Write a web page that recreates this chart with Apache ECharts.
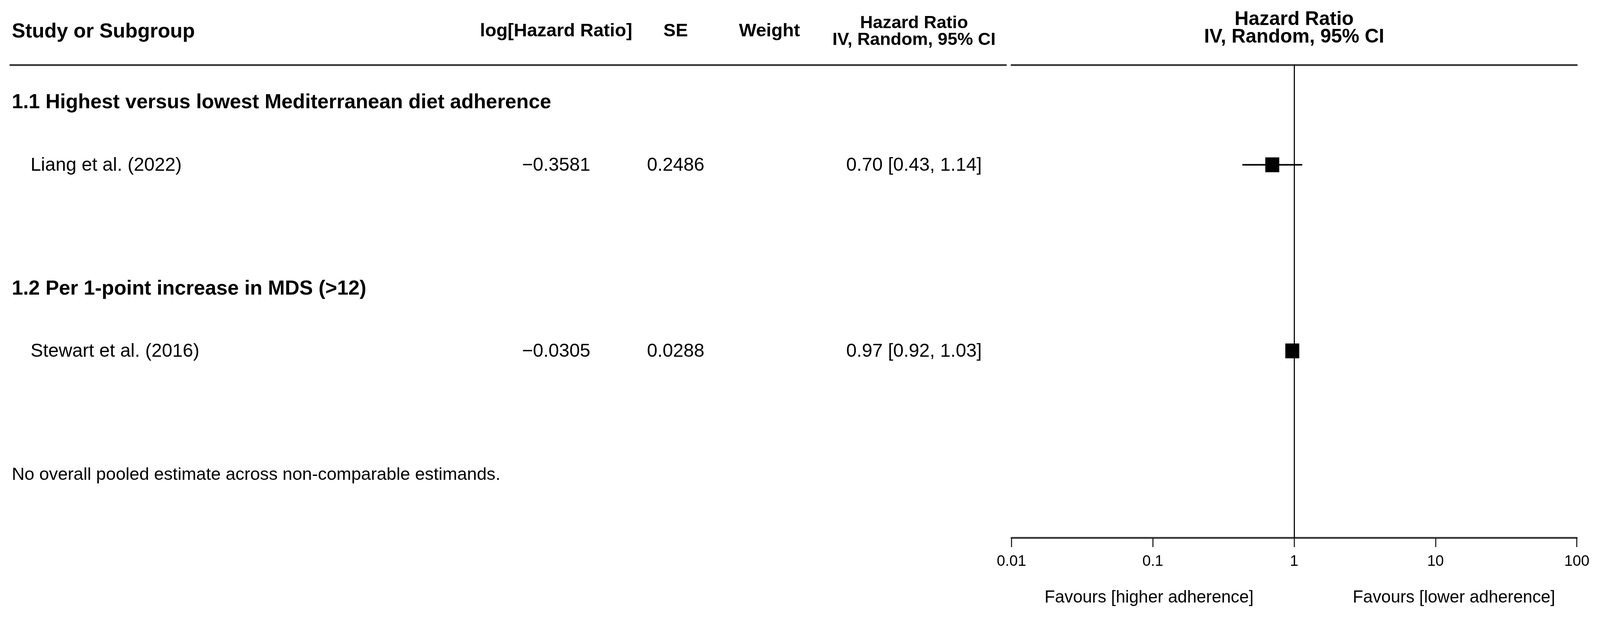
<!DOCTYPE html>
<html><head><meta charset="utf-8">
<script src="https://cdn.jsdelivr.net/npm/echarts@6/dist/echarts.min.js"></script>
<style>html,body{margin:0;padding:0;background:#fff;overflow:hidden}#c{width:100vw;height:100vh}</style>
</head><body><div id="c"></div>
<script>
// ---- data ----
const subgroups = ['1.1 Highest versus lowest Mediterranean diet adherence', '1.2 Per 1-point increase in MDS (>12)'];
const studies = ['Liang et al. (2022)', 'Stewart et al. (2016)'];
const studySubgroup = [0, 1];
const logHR = [-0.3581, -0.0305];
const seVals = [0.2486, 0.0288];
const weights = ['', ''];
const hrVals = [0.70, 0.97];
const ciLow = [0.43, 0.92];
const ciHigh = [1.14, 1.03];
const tickLabels = ['0.01', '0.1', '1', '10', '100'];
const colHeaders = ['Study or Subgroup', 'log[Hazard Ratio]', 'SE', 'Weight', 'Hazard Ratio', 'IV, Random, 95% CI'];
const plotHeader = ['Hazard Ratio', 'IV, Random, 95% CI'];
const favours = ['Favours [higher adherence]', 'Favours [lower adherence]'];
const footnote = 'No overall pooled estimate across non-comparable estimands.';

// ---- layout (designed for 4350x1579, scaled to the actual viewport) ----
const FONT = '"Liberation Sans", Arial, Helvetica, sans-serif';
const el = document.getElementById('c');
const VW = el.clientWidth || window.innerWidth, VH = el.clientHeight || window.innerHeight;
const sx = VW / 4350, sy = VH / 1579, sf = Math.min(sx, sy);
const X = (v) => v * sx, Y = (v) => v * sy, F = (v) => v * sf;
const TOP = 166, AXIS_Y = 1376;
const PLOT_L = 2750, PLOT_R = 4287;
const TAB_L = 28, TAB_R = 2735;
const ROW_MIN = -0.611, ROW_MAX = 7.01;
const COL = { name: 83, sub: 32, loghr: 1512, se: 1837, weight: 2092, hr: 2485 };

function subRow(k) { return 3 * k; }
function studyRow(i) { return 3 * studySubgroup[i] + 1; }
const noteRow = 3 * subgroups.length;

function fmtSigned(v, d) { return (v < 0 ? '\u2212' : '') + Math.abs(v).toFixed(d); }

const chart = echarts.init(el, null, { renderer: 'canvas' });

const forestData = studies.map((s, i) => [hrVals[i], ciLow[i], ciHigh[i], studyRow(i)]);

const hiddenY = (gi) => ({
  type: 'value', gridIndex: gi, inverse: true, min: ROW_MIN, max: ROW_MAX,
  show: false, splitLine: { show: false }
});
const topLine = (gi) => ({
  type: 'value', gridIndex: gi, min: 0, max: 1, position: 'top',
  axisLine: { show: true, onZero: false, lineStyle: { color: '#333', width: Y(4.5) } },
  axisTick: { show: false }, axisLabel: { show: false }, splitLine: { show: false }
});

chart.setOption({
  animation: false,
  backgroundColor: '#fff',
  grid: [
    { left: X(PLOT_L), width: X(PLOT_R - PLOT_L), top: Y(TOP), height: Y(AXIS_Y - TOP), containLabel: false },
    { left: X(TAB_L), width: X(TAB_R - TAB_L), top: Y(TOP), height: Y(AXIS_Y - TOP), containLabel: false }
  ],
  xAxis: [
    {
      type: 'log', logBase: 10, gridIndex: 0, min: 0.01, max: 100, position: 'bottom',
      axisLine: { show: true, onZero: false, lineStyle: { color: '#333', width: Y(4.5) } },
      axisTick: { show: true, length: Y(24), lineStyle: { color: '#222', width: X(3) } },
      axisLabel: {
        show: true, fontSize: F(41), color: '#000', fontFamily: FONT, margin: Y(42),
        formatter: (v) => tickLabels[Math.round(Math.log10(v)) + 2]
      },
      splitLine: { show: false }
    },
    topLine(0),
    topLine(1)
  ],
  yAxis: [hiddenY(0), hiddenY(1)],
  series: [
    {
      type: 'custom', xAxisIndex: 0, yAxisIndex: 0,
      data: forestData,
      encode: { x: [0, 1, 2], y: 3 },
      renderItem: function (params, api) {
        const y = api.value(3);
        const pc = api.coord([api.value(0), y]);
        const pl = api.coord([api.value(1), y]);
        const ph = api.coord([api.value(2), y]);
        const w = X(38), h = Y(38);
        return {
          type: 'group', children: [
            { type: 'line', shape: { x1: pl[0], y1: pl[1], x2: ph[0], y2: ph[1] }, style: { stroke: '#000', lineWidth: Y(4) } },
            { type: 'rect', shape: { x: pc[0] - w / 2, y: pc[1] - h / 2, width: w, height: h }, style: { fill: '#000' } }
          ]
        };
      },
      markLine: {
        silent: true, symbol: 'none', animation: false,
        label: { show: false },
        lineStyle: { color: '#000', width: X(3), type: 'solid' },
        data: [{ xAxis: 1 }]
      },
      z: 5
    }
  ]
});

// ---- table text ----
function rowY(r) { return chart.convertToPixel({ yAxisIndex: 1 }, r); }
function txt(x, y, text, size, bold, align) {
  return {
    type: 'text', x: x, y: y, silent: true,
    style: {
      text: text, fontSize: F(size), fontWeight: bold ? 'bold' : 'normal', fontFamily: FONT,
      fill: '#000', align: align || 'left', verticalAlign: 'middle'
    }
  };
}
const g = [];
g.push(txt(X(COL.sub), Y(82), colHeaders[0], 55, true, 'left'));
g.push(txt(X(COL.loghr), Y(80), colHeaders[1], 50, true, 'center'));
g.push(txt(X(COL.se), Y(80), colHeaders[2], 50, true, 'center'));
g.push(txt(X(COL.weight), Y(80), colHeaders[3], 50, true, 'center'));
g.push(txt(X(COL.hr), Y(60), colHeaders[4], 48, true, 'center'));
g.push(txt(X(COL.hr), Y(103), colHeaders[5], 48, true, 'center'));
const xOne = chart.convertToPixel({ xAxisIndex: 0 }, 1);
g.push(txt(xOne, Y(50), plotHeader[0], 53, true, 'center'));
g.push(txt(xOne, Y(95), plotHeader[1], 53, true, 'center'));

subgroups.forEach((s, k) => g.push(txt(X(COL.sub), rowY(subRow(k)), s, 55, true, 'left')));
studies.forEach((s, i) => {
  const y = rowY(studyRow(i)) + Y(2);
  g.push(txt(X(COL.name), y, s, 51, false, 'left'));
  g.push(txt(X(COL.loghr), y, fmtSigned(logHR[i], 4), 51, false, 'center'));
  g.push(txt(X(COL.se), y, seVals[i].toFixed(4), 51, false, 'center'));
  g.push(txt(X(COL.weight), y, weights[i], 51, false, 'center'));
  g.push(txt(X(COL.hr), y, hrVals[i].toFixed(2) + ' [' + ciLow[i].toFixed(2) + ', ' + ciHigh[i].toFixed(2) + ']', 51, false, 'center'));
});
g.push(txt(X(COL.sub), rowY(noteRow), footnote, 48, false, 'left'));
g.push(txt(X(3124), Y(1530), favours[0], 46.5, false, 'center'));
g.push(txt(X(3953), Y(1530), favours[1], 46.5, false, 'center'));

chart.setOption({ graphic: { elements: g } });
</script>
</body></html>
